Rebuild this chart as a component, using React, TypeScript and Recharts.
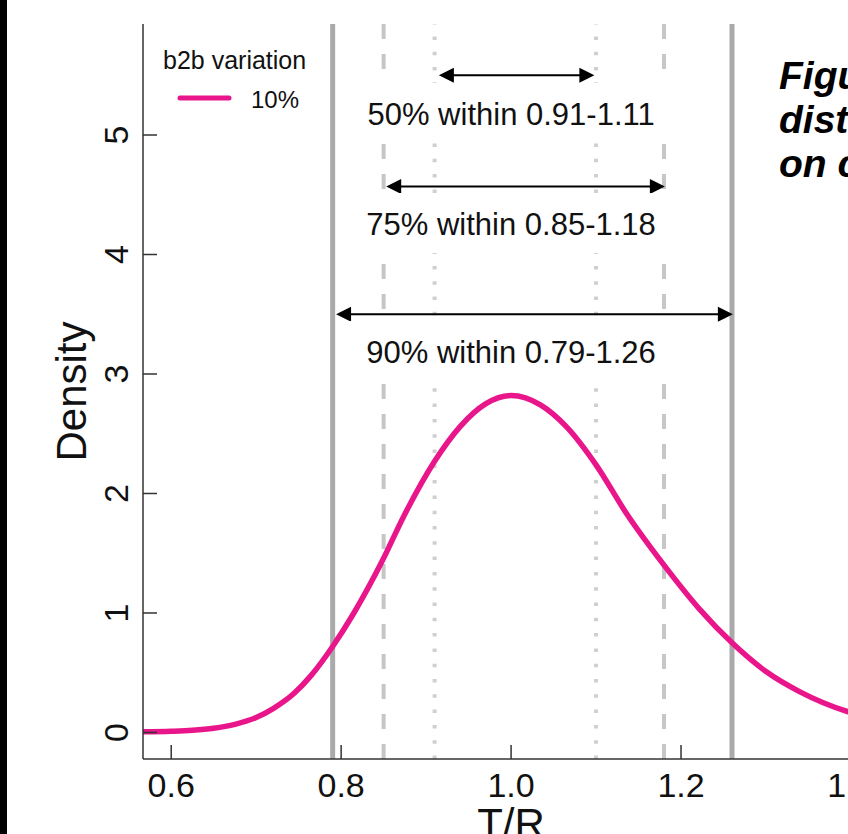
import React from 'react';
import { LineChart, Line, XAxis, YAxis, ReferenceLine, ReferenceDot, Legend } from 'recharts';

// T/R values and density of the 10% curve
const trValues = [0.5668, 0.6, 0.625, 0.65, 0.675, 0.7, 0.72, 0.745, 0.765, 0.79, 0.815, 0.848, 0.873, 0.91, 0.94, 0.97, 1.0, 1.035, 1.065, 1.1, 1.136, 1.18, 1.222, 1.26, 1.3, 1.34, 1.396, 1.433];
const densityValues = [0.005, 0.01, 0.018, 0.035, 0.068, 0.125, 0.2, 0.33, 0.48, 0.72, 1.0, 1.43, 1.8, 2.27, 2.56, 2.75, 2.82, 2.74, 2.56, 2.24, 1.83, 1.4, 1.03, 0.75, 0.51, 0.34, 0.175, 0.11];

const xTicks = [0.6, 0.8, 1.0, 1.2, 1.4];
const yTicks = [0, 1, 2, 3, 4, 5];

// interval bounds drawn as vertical lines
const solidLines = [0.79, 1.26];
const dashedLines = [0.85, 1.18];
const dottedLines = [0.91, 1.1];

// arrow annotations
const annotationLabels = ['50% within 0.91-1.11', '75% within 0.85-1.18', '90% within 0.79-1.26'];
const arrowLow = [0.915, 0.853, 0.794];
const arrowHigh = [1.098, 1.181, 1.261];
const arrowLevel = [5.5, 4.57, 3.5];
const labelLevel = [5.084, 4.163, 3.092];

const titleLines = ['Figure 1', 'distribution', 'on crossover'];

const FONT = '"Liberation Sans", Arial, sans-serif';
const PINK = '#E8168A';
const AXIS = '#333333';

const data = trValues.map((x, i) => ({ x, density: densityValues[i] }));

const XTick = (props: any) => {
  const { x, y, payload } = props;
  return (
    <g>
      <line x1={x} y1={y} x2={x} y2={y - 14} stroke={AXIS} strokeWidth={1.5} />
      <text x={x} y={y + 38} textAnchor="middle" fontSize={34} fill="#111" fontFamily={FONT}>
        {Number(payload.value).toFixed(1)}
      </text>
    </g>
  );
};

const YTick = (props: any) => {
  const { x, y, payload } = props;
  const tx = x - 15;
  return (
    <g>
      <line x1={x} y1={y} x2={x + 14} y2={y} stroke={AXIS} strokeWidth={1.5} />
      <text x={tx} y={y} transform={`rotate(-90, ${tx}, ${y})`} textAnchor="middle" fontSize={34} fill="#111" fontFamily={FONT}>
        {payload.value}
      </text>
    </g>
  );
};

const ArrowShape = (props: any) => {
  const { x1, y1, x2 } = props;
  const left = Math.min(x1, x2);
  const right = Math.max(x1, x2);
  const y = y1;
  const head = 15;
  const half = 7.5;
  return (
    <g>
      <line x1={left + head - 2} y1={y} x2={right - head + 2} y2={y} stroke="#000" strokeWidth={2} />
      <polygon points={`${left},${y} ${left + head},${y - half} ${left + head},${y + half}`} fill="#000" />
      <polygon points={`${right},${y} ${right - head},${y - half} ${right - head},${y + half}`} fill="#000" />
    </g>
  );
};

const LegendBox = (p: any) => {
  const item = p.payload && p.payload[0];
  return (
    <svg width={180} height={80} style={{ display: 'block' }}>
      <text x={13} y={29} fontSize={25} fill="#111" fontFamily={FONT}>b2b variation</text>
      <line x1={30} y1={58} x2={79} y2={58} stroke={item ? item.color : PINK} strokeWidth={5} strokeLinecap="round" />
      <text x={101} y={68} fontSize={24} fill="#111" fontFamily={FONT}>{item ? item.value : '10%'}</text>
    </svg>
  );
};

export default function App() {
  return (
    <div style={{ position: 'absolute', left: 0, top: 0, width: 848, height: 834, overflow: 'hidden', background: '#fff', fontFamily: FONT }}>
      <LineChart width={1000} height={834} data={data} margin={{ top: 24, right: 121, bottom: 0, left: 43 }}>
        <XAxis
          dataKey="x"
          type="number"
          domain={[0.5668, 1.433]}
          allowDataOverflow
          ticks={xTicks}
          interval={0}
          height={75}
          tickSize={0}
          tickMargin={0}
          tickLine={false}
          axisLine={{ stroke: AXIS, strokeWidth: 1.5 }}
          tick={<XTick />}
          label={(lp: any) => {
            const vb = lp.viewBox || {};
            return (
              <text x={vb.x + vb.width / 2} y={vb.y + 79} textAnchor="middle" fontSize={42} fill="#111" fontFamily={FONT}>T/R</text>
            );
          }}
        />
        <YAxis
          type="number"
          domain={[-0.222, 5.929]}
          allowDataOverflow
          ticks={yTicks}
          interval={0}
          width={100}
          tickSize={0}
          tickMargin={0}
          tickLine={false}
          axisLine={{ stroke: AXIS, strokeWidth: 1.5 }}
          tick={<YTick />}
          label={(lp: any) => {
            const vb = lp.viewBox || {};
            const lx = vb.x + 43;
            const ly = vb.y + vb.height / 2;
            return (
              <text x={lx} y={ly} transform={`rotate(-90, ${lx}, ${ly})`} textAnchor="middle" fontSize={42} fill="#111" fontFamily={FONT}>Density</text>
            );
          }}
        />
        <Legend
          verticalAlign="middle"
          align="center"
          layout="horizontal"
          wrapperStyle={{ left: 150, top: 40, width: 180, height: 80 }}
          content={LegendBox}
        />
        {solidLines.map((v) => (
          <ReferenceLine key={`s${v}`} x={v} stroke="#AAAAAA" strokeWidth={5} />
        ))}
        {dashedLines.map((v) => (
          <ReferenceLine key={`d${v}`} x={v} stroke="#C6C6C6" strokeWidth={4} strokeDasharray="15 15" />
        ))}
        {dottedLines.map((v) => (
          <ReferenceLine key={`o${v}`} x={v} stroke="#CFCFCF" strokeWidth={4} strokeDasharray="3.5 11.8" />
        ))}
        {annotationLabels.map((label, i) => (
          <ReferenceDot
            key={`t${i}`}
            x={1.0}
            y={labelLevel[i]}
            r={0}
            ifOverflow="visible"
            shape={(p: any) => (
              <g>
                <rect x={p.cx - 165} y={p.cy - 42} width={330} height={60} fill="#fff" />
                <text x={p.cx} y={p.cy} textAnchor="middle" fontSize={31} fill="#111" fontFamily={FONT}>{label}</text>
              </g>
            )}
          />
        ))}
        {annotationLabels.map((label, i) => (
          <ReferenceLine
            key={`a${i}`}
            segment={[{ x: arrowLow[i], y: arrowLevel[i] }, { x: arrowHigh[i], y: arrowLevel[i] }]}
            ifOverflow="visible"
            shape={ArrowShape}
          />
        ))}
        <Line
          dataKey="density"
          name="10%"
          type="monotone"
          stroke={PINK}
          strokeWidth={5.5}
          dot={false}
          activeDot={false}
          isAnimationActive={false}
        />
      </LineChart>
      <div style={{ position: 'absolute', left: 779, top: 53.5, fontSize: 39, lineHeight: '44px', fontWeight: 'bold', fontStyle: 'italic', color: '#000', whiteSpace: 'nowrap' }}>
        {titleLines.map((t) => (
          <div key={t}>{t}</div>
        ))}
      </div>
      <div style={{ position: 'absolute', left: 0, top: 0, width: 7, height: 834, background: '#000' }} />
    </div>
  );
}
